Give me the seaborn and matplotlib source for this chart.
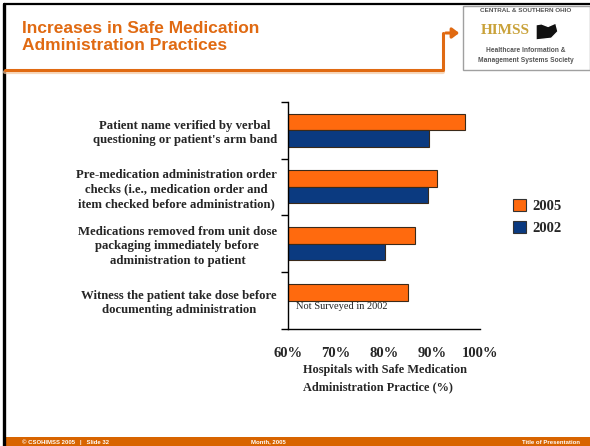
import seaborn as sns
import matplotlib.pyplot as plt
import pandas as pd
import numpy as np
from matplotlib.patches import Rectangle, Polygon, FancyArrowPatch
from matplotlib.lines import Line2D

# data
practices = [
    "Patient name verified by verbal\nquestioning or patient's arm band",
    "Pre-medication administration order\nchecks (i.e., medication order and\nitem checked before administration)",
    "Medications removed from unit dose\npackaging immediately before\nadministration to patient",
    "Witness the patient take dose before\ndocumenting administration",
]
pct_2005 = [96.9, 91.1, 86.5, 85.1]
pct_2002 = [89.4, 89.2, 80.3, np.nan]
years = ["2005", "2002"]
x_ticks = [60, 70, 80, 90, 100]

ORANGE = "#FF6A0E"
NAVY = "#0B3A80"
TITLE_OR = "#E06A12"

df = pd.DataFrame({
    "practice": practices * 2,
    "year": ["2005"] * 4 + ["2002"] * 4,
    "pct": pct_2005 + pct_2002,
})

sns.set_style("white")
plt.rcParams["font.family"] = ["Liberation Serif", "DejaVu Serif"]

W, H = 590, 446
fig = plt.figure(figsize=(W / 100, H / 100), dpi=100)

def fx(px):
    return px / W

def fy(py):
    return 1 - py / H

ax = fig.add_axes([fx(288), fy(329), fx(480) - fx(288), fy(101.7) - fy(329)])
sns.barplot(data=df, x="pct", y="practice", hue="year", hue_order=years,
            palette={"2005": ORANGE, "2002": NAVY}, width=0.58, saturation=1,
            edgecolor="#3a2a1a", linewidth=0.8, errorbar=None, legend=False, ax=ax)

ax.set_xlim(60, 100)
ax.set_ylim(3.5, -0.5)
ax.set_xticks(x_ticks)
ax.set_xticklabels([f"{v}%" for v in x_ticks], fontsize=10.5, fontweight="bold")
ax.tick_params(axis="x", length=4, width=1, pad=9, direction="out", color="black")
ax.set_yticks(range(4))
ax.set_yticklabels(practices, fontsize=9.2, fontweight="bold",
                   multialignment="center", linespacing=1.25)
ax.tick_params(axis="y", length=0, pad=8)
ax.set_yticks(np.arange(-0.5, 4, 1), minor=True)
ax.tick_params(axis="y", which="minor", length=5, width=1, direction="out", color="black", left=True)
ax.set_xlabel("")
ax.set_ylabel("")
for s in ["top", "right"]:
    ax.spines[s].set_visible(False)
for s in ["left", "bottom"]:
    ax.spines[s].set_color("black")
    ax.spines[s].set_linewidth(1)

ax.text(61.7, 3.1, "Not Surveyed in 2002", fontsize=7.5, va="center", ha="left", color="#222222")

handles = [Rectangle((0, 0), 1, 1, facecolor=c, edgecolor="#333333", linewidth=0.8)
           for c in (ORANGE, NAVY)]
fig.legend(handles, years, loc="center left", bbox_to_anchor=(fx(500), fy(217)),
           frameon=False, prop={"weight": "bold", "size": 10.5},
           handlelength=0.9, handleheight=0.9, handletextpad=0.4, labelspacing=0.55)

fig.text(fx(303), fy(364), "Hospitals with Safe Medication\nAdministration Practice (%)",
         fontsize=8.8, fontweight="bold", ha="left", va="top", linespacing=1.55)

# slide decoration
fig.add_artist(Line2D([fx(4), fx(590)], [fy(4), fy(4)], color="black", lw=1.6))
fig.add_artist(Line2D([fx(4), fx(4)], [fy(4), fy(446)], color="black", lw=2.4))
fig.add_artist(Line2D([fx(5), fx(443)], [fy(72), fy(72)], color="#F5C8A0", lw=3, alpha=0.7))
fig.add_artist(Line2D([fx(5), fx(443), fx(443)], [fy(70), fy(70), fy(33)], color=TITLE_OR, lw=2.2))
fig.add_artist(FancyArrowPatch((fx(443), fy(33)), (fx(462), fy(33)), transform=fig.transFigure,
                               arrowstyle="-|>,head_length=4,head_width=3", color=TITLE_OR, lw=2.2))

fig.text(fx(22), fy(37), "Increases in Safe Medication\nAdministration Practices",
         family="Liberation Sans", fontweight="bold", fontsize=12.5, color=TITLE_OR,
         ha="left", va="center", linespacing=1.15)

# logo box
fig.add_artist(Rectangle((fx(463), fy(70)), fx(590) - fx(463), fy(6) - fy(70),
                         transform=fig.transFigure, facecolor="white", edgecolor="#a0a0a0", lw=1))
fig.text(fx(526), fy(11), "CENTRAL & SOUTHERN OHIO", family="Liberation Sans", fontsize=4.6,
         color="#555555", ha="center", va="center", fontweight="bold")
fig.text(fx(505), fy(31), "HIMSS", family="Liberation Serif", fontsize=11, fontweight="bold",
         color="#C9A23A", ha="center", va="center")
ohio = [(0, 0), (0.7, 0.1), (1, 0.5), (0.9, 1), (0.55, 0.8), (0.25, 0.95), (0, 0.9)]
fig.add_artist(Polygon([(fx(536 + 22 * a), fy(40 - 17 * b)) for a, b in ohio],
                       closed=True, transform=fig.transFigure, facecolor="#111111"))
fig.text(fx(526), fy(50), "Healthcare Information &", family="Liberation Sans", fontsize=4.8,
         color="#555555", ha="center", va="center", fontweight="bold")
fig.text(fx(526), fy(60), "Management Systems Society", family="Liberation Sans", fontsize=4.8,
         color="#555555", ha="center", va="center", fontweight="bold")

# footer
fig.add_artist(Rectangle((fx(5), 0), 1, fy(437), transform=fig.transFigure,
                         facecolor="#D86400", edgecolor="none"))
for x, txt, ha in [(22, "© CSOHIMSS 2005   |   Slide 32", "left"),
                   (268, "Month, 2005", "center"),
                   (580, "Title of Presentation", "right")]:
    fig.text(fx(x), fy(442), txt, family="Liberation Sans", fontsize=4.3, color="white",
             fontweight="bold", ha=ha, va="center")

fig.savefig("out.png", dpi=100)
